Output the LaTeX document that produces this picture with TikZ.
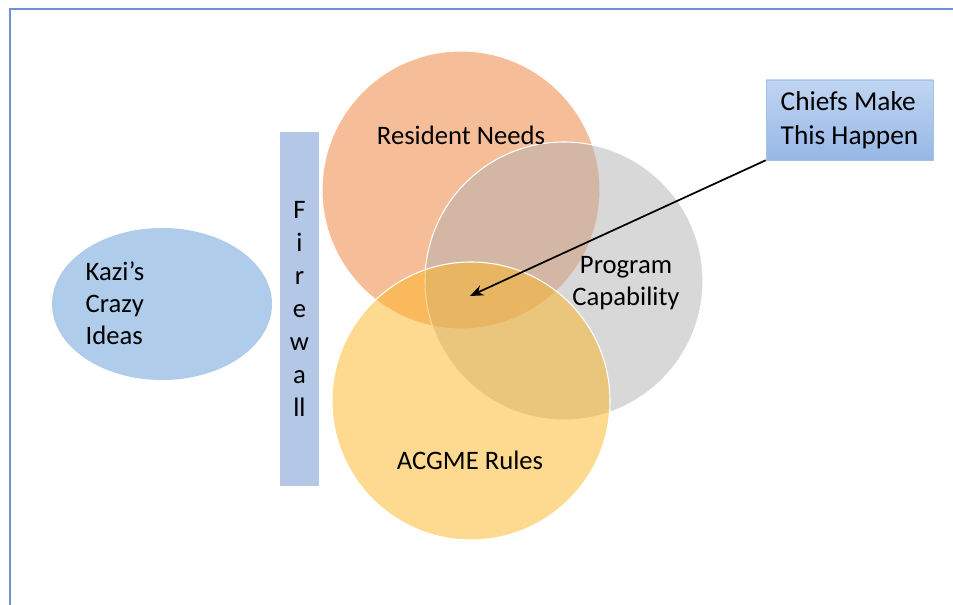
\documentclass[tikz,border=0pt]{standalone}
\usepackage{fontspec}
\setmainfont{Carlito}
\usetikzlibrary{shapes.geometric,arrows.meta}
\definecolor{needs}{RGB}{237,125,49}
\definecolor{capab}{RGB}{177,177,177}
\definecolor{rules}{RGB}{253,181,35}
\definecolor{kazi}{RGB}{176,204,235}
\definecolor{fire}{RGB}{180,199,231}
\definecolor{frameblue}{RGB}{112,146,210}
\begin{document}
\begin{tikzpicture}[x=0.75pt,y=-0.75pt,
  venn/.style={circle,minimum size=208.5pt,inner sep=0pt,fill opacity=0.5,draw=white,line width=0.8pt},
  txt/.style={font=\fontsize{20}{24}\selectfont,text=black,align=center}]
\useasboundingbox (0,0) rectangle (953,605);
\draw[frameblue,line width=1.2pt] (10,605)--(10,9)--(953,9);
\node[ellipse,fill=kazi,minimum width=165pt,minimum height=114pt,inner sep=0pt] (kazi) at (162,304) {};
\node[txt,align=left,anchor=west] (kazitxt) at (81,303) {Kazi’s\\Crazy\\Ideas};
\node[rectangle,fill=fire,minimum width=29.25pt,minimum height=265.5pt,inner sep=0pt] (wall) at (299.5,309) {};
\node[txt,font=\fontsize{20}{24.75}\selectfont] (walltxt) at (wall.center) {F\\i\\r\\e\\w\\a\\ll};
\node[venn,fill=needs] (needs) at (461,190) {};
\node[venn,fill=capab] (capab) at (564,281) {};
\node[venn,fill=rules] (rules) at (471,401) {};
\node[txt] (needstxt) at (461,135) {Resident Needs};
\node[txt] (capabtxt) at (626,283) {Program\\Capability};
\node[txt] (rulestxt) at (470,460) {ACGME Rules};
\node[rectangle,top color={rgb,255:red,192;green,213;blue,242},bottom color={rgb,255:red,150;green,184;blue,230},
  draw={rgb,255:red,165;green,195;blue,232},minimum width=125.25pt,minimum height=60pt,inner sep=0pt] (chief) at (849.5,120) {};
\node[txt,align=left,font=\fontsize{20.5}{25.5}\selectfont] (chieftxt) at (chief.center) {Chiefs Make\\This Happen};
\coordinate (core) at (470,296);
\draw[-{Stealth[length=10pt,width=8pt]},line width=1.3pt] (chief.south west) -- (core);
\end{tikzpicture}
\end{document}
